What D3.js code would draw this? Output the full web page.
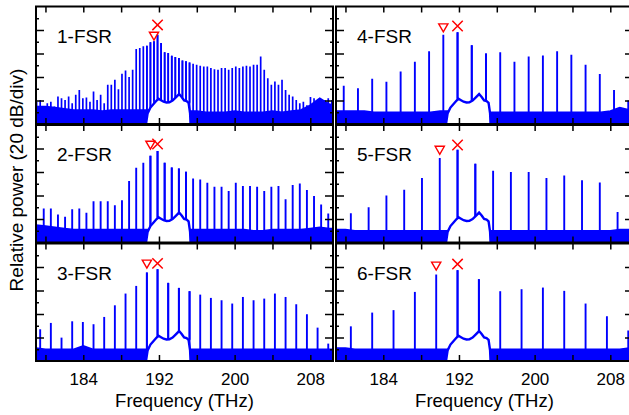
<!DOCTYPE html>
<html><head><meta charset="utf-8">
<script src="https://cdn.jsdelivr.net/npm/d3@7"></script>
<style>body{margin:0;background:#fff;} svg{display:block;font-family:"Liberation Sans",Arial,Helvetica,sans-serif;}</style>
</head><body><svg id="c" width="629" height="415"></svg>
<script>
// ---------------- data ----------------
const panelNames = ["1-FSR","2-FSR","3-FSR","4-FSR","5-FSR","6-FSR"];
const pumpTHz = 191.85;          // pump line (marked with ×)
const fsrTHz = 0.376;            // free spectral range
const lineMultiple = [1,2,3,4,5,6];       // comb spacing in FSR
const firstIndex = [-34,-16,-11,-8,-6,-5]; // index of first visible comb line relative to pump
// comb line peak levels (arbitrary dB units, 20 per division), left to right
const peaks1 = [19,20.5,10,17.7,19,14.8,23.4,22,20.5,23.4,17.7,24.8,29,22,22.5,19,27.6,20.5,24.8,17.7,
  33.3,33.3,37.6,29.6,42.7,45.6,39.9,46.2,63.8,64.7,66.1,66.7,69.5,70.4,
  76,69,61,60.4,58.1,57,56.1,54.1,53.3,52.4,51.3,50.4,49.6,49,49,47.6,46.7,46.2,47.6,47.6,
  46.2,47.6,49,47.6,49,49.6,49,50.4,50.4,57.5,46.2,39,33.3,36.2,33.3,37.6,29,24.8,23.4,20.5,
  17.7,19,16,23,22,20.5,19,20.5,22,20.5];
const peaks2 = [29,29,23.9,21.9,28.4,29,25.3,35.2,35.2,35.2,31.8,36,52.3,63.6,67.9,73.9,
  77.8,67.9,63.9,63,60.2,54.5,53.7,50.9,47.4,47.4,43.8,50.9,48,48,47.4,43.8,47.4,48,36.9,48.9,50.3,
  44.6,39.5,32.4,24.7];
const peaks3 = [27,32.4,19.9,33.8,33.2,31.3,37.5,47.4,57.4,63.9,75.3,78.1,66.5,62.2,59.4,56.5,53.7,
  51.7,48.9,54.5,51.7,53.1,57.4,54.5,48.3,39.8,28.4,14.8];
const peaks4 = [32.5,30.5,38.5,36,44.7,53,62,76,78,67,60,61,53,57.5,58.4,62,59,50.4,42.5,29,20];
const peaks5 = [25,30,40,45,55,72,79,67,61,60,60,55,57,53,51,26];
const peaks6 = [29.5,41.2,43.3,58.8,73.6,77.3,69.6,59.4,61.1,62.5,59.7,48.9,38.1,26];
const allPeaks = [peaks1,peaks2,peaks3,peaks4,peaks5,peaks6];
// noise floor level, one value per THz from 179 to 211
const floorStart = 179;
const floor1 = [15,15,14,13,12,12,12,11,12,12,12,12,12,11,11,11,11,11,10,10,10,11,10,10,10,11,10,11,12,16,22,17,15];
const floor2 = [15,14,13,12,11,11,11,11,11,11,11,11,11,11,11,11,11,11,11,11,11,11,11,10,10,11,11,11,11,12,13,12,12];
const floor3 = [11,10,10,10,10,13,10,10,10,10,10,10,10,10,10,10,10,10,10,10,10,10,10,10,10,10,10,10,10,10,10,10,10];
const floor4 = [11,11,11,11,10,10,10,10,10,10,10,11,11,11,11,11,10,10,10,10,10,10,10,10,10,10,10,10,10,11,14,12,12];
const floor5 = [11,11,10,10,10,10,10,10,10,10,10,10,10,10,10,10,10,10,10,10,10,10,10,10,10,10,10,10,10,10,11,11,11];
const floor6 = [11,11,10,10,10,10,10,10,10,10,10,10,10,10,10,10,10,10,10,10,10,10,10,10,10,10,10,10,10,10,10,11,11];
const allFloors = [floor1,floor2,floor3,floor4,floor5,floor6];
// filtered pump-band trace (THz, level)
const humpF = [190.63,190.8,191.1,191.43,191.75,191.96,192.17,192.49,192.8,193.1,193.44,193.76,194.13,194.4,194.66,194.92,195.13,195.29,195.34];
const humpV = [0,9,14,17,20,21.5,20.5,19,18.3,18.5,20,22.5,25.5,23,20,19.5,18,9,0];
// markers: ▽ on neighbouring line, × on pump line (level where marker sits)
const triVal = [74.9,83,82.6,82,78.7,80.9];
const xVal   = [84.3,83.8,83.1,83.4,83,82.5];
const xTicks = [180,184,188,192,196,200,204,208];
const xLabels = [184,192,200,208];
const yMajor = [20,40,60,80];
const yMinor = [10,30,50,70,90];

// ---------------- layout ----------------
const svg = d3.select("#c");
const colLeft = [36,336], rowTop = [6.5,125,243.5];
const W = 297, H = 117.5;
const blue = "#0000ff", red = "#ff0000";
const x = d3.scaleLinear().domain([179,210.4]).range([0,W]);
const y = d3.scaleLinear().domain([0,100]).range([H,0]);

svg.append("defs").append("clipPath").attr("id","pc")
  .append("rect").attr("width",W).attr("height",H);

panelNames.forEach((name,i)=>{
  const col = i<3?0:1, row = i%3;
  const g = svg.append("g").attr("transform",`translate(${colLeft[col]},${rowTop[row]})`);
  const inner = g.append("g").attr("clip-path","url(#pc)");
  const floor = allFloors[i].map((v,j)=>({f:floorStart+j,v}));
  inner.append("path").datum(floor)
    .attr("d",d3.area().x(d=>x(d.f)).y0(H).y1(d=>y(d.v)))
    .attr("fill",blue).attr("stroke",blue).attr("stroke-width",1.5);
  const step = fsrTHz*lineMultiple[i];
  const lw = i===0?1.7:1.9;
  const lines = allPeaks[i].map((v,j)=>({f:pumpTHz+(firstIndex[i]+j)*step, v}));
  inner.selectAll("line.c").data(lines).join("line")
    .attr("x1",d=>x(d.f)).attr("x2",d=>x(d.f))
    .attr("y1",H).attr("y2",d=>y(d.v))
    .attr("stroke",blue).attr("stroke-width",lw);
  const hump = humpF.map((f,j)=>({f,v:humpV[j]}));
  inner.append("path").datum(hump)
    .attr("d",d3.area().x(d=>x(d.f)).y0(H).y1(d=>y(d.v)))
    .attr("fill","#fff");
  inner.append("path").datum(hump)
    .attr("d",d3.line().x(d=>x(d.f)).y(d=>y(d.v)))
    .attr("fill","none").attr("stroke",blue).attr("stroke-width",2.4);
  // redraw line portions above the hump
  inner.selectAll("line.h").data(lines.filter(d=>d.f>humpF[0]&&d.f<humpF[humpF.length-1])).join("line")
    .attr("x1",d=>x(d.f)).attr("x2",d=>x(d.f))
    .attr("y1",d=>y(d3.max(hump.filter(h=>Math.abs(h.f-d.f)<0.3),h=>h.v)||0)).attr("y2",d=>y(d.v))
    .attr("stroke",blue).attr("stroke-width",lw);
  // markers
  const fx = pumpTHz, ft = pumpTHz-step;
  const s=5.2;
  g.append("path").attr("transform",`translate(${x(fx)},${y(xVal[i])})`)
    .attr("d",`M${-s},${-s}L${s},${s}M${-s},${s}L${s},${-s}`)
    .attr("stroke",red).attr("stroke-width",1.5).attr("fill","none");
  g.append("path").attr("transform",`translate(${x(ft)},${y(triVal[i])})`)
    .attr("d","M-4.6,-3.8L4.6,-3.8L0,4.2Z")
    .attr("stroke",red).attr("stroke-width",1.4).attr("fill","none");
  // axes (inward ticks)
  const styleAxis = a=>{a.select(".domain").remove();a.selectAll("line").attr("stroke","#000").attr("stroke-width",1.5);};
  g.append("g").attr("transform",`translate(0,${H})`)
    .call(d3.axisBottom(x).tickValues(xTicks).tickSizeInner(-6).tickSizeOuter(0).tickPadding(12)
      .tickFormat(d=> (row===2 && xLabels.includes(d))? d : ""))
    .call(styleAxis)
    .call(a=>a.selectAll("text").attr("font-size",17).attr("fill","#000").attr("font-family","Liberation Sans, Arial, sans-serif"));
  g.append("g").call(d3.axisTop(x).tickValues(xTicks).tickSizeInner(-6).tickSizeOuter(0).tickFormat("")).call(styleAxis);
  g.append("g").call(d3.axisLeft(y).tickValues(yMajor).tickSizeInner(-8).tickSizeOuter(0).tickFormat("")).call(styleAxis);
  g.append("g").call(d3.axisLeft(y).tickValues(yMinor).tickSizeInner(-3).tickSizeOuter(0).tickFormat("")).call(styleAxis);
  g.append("g").attr("transform",`translate(${W},0)`).call(d3.axisRight(y).tickValues(yMajor).tickSizeInner(-8).tickSizeOuter(0).tickFormat("")).call(styleAxis);
  g.append("g").attr("transform",`translate(${W},0)`).call(d3.axisRight(y).tickValues(yMinor).tickSizeInner(-3).tickSizeOuter(0).tickFormat("")).call(styleAxis);
  g.append("rect").attr("width",W).attr("height",H).attr("fill","none").attr("stroke","#000").attr("stroke-width",2);
  g.append("text").attr("x",21).attr("y",36).attr("font-size",19).attr("fill","#000").text(name);
  if(row===2){
    g.append("text").attr("x",W/2).attr("y",H+45.5).attr("text-anchor","middle")
      .attr("font-size",18.5).attr("fill","#000").text("Frequency (THz)");
  }
});
svg.append("text").attr("transform",`translate(23,${180}) rotate(-90)`).attr("text-anchor","middle")
  .attr("font-size",19).attr("fill","#000").text("Relative power (20 dB/div)");
</script></body></html>
